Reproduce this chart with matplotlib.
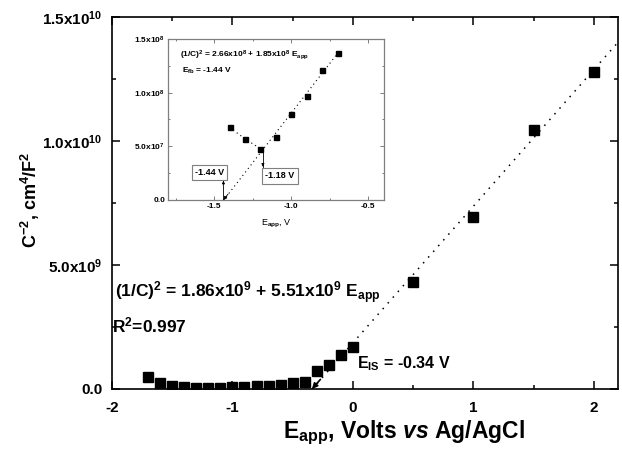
import numpy as np
import matplotlib.pyplot as plt
from matplotlib.ticker import MultipleLocator

plt.rcParams['font.family'] = ['Liberation Sans', 'DejaVu Sans']
plt.rcParams['font.weight'] = 'bold'
plt.rcParams['mathtext.fontset'] = 'custom'
plt.rcParams['mathtext.rm'] = 'Liberation Sans:bold'
plt.rcParams['mathtext.bf'] = 'Liberation Sans:bold'
plt.rcParams['mathtext.it'] = 'Liberation Sans:bold:italic'

# main Mott-Schottky data (V vs Ag/AgCl, C^-2 in cm^4/F^2)
e_main = [-1.7, -1.6, -1.5, -1.4, -1.3, -1.2, -1.1, -1.0, -0.9, -0.8, -0.7,
          -0.6, -0.5, -0.4, -0.3, -0.2, -0.1, 0.0, 0.5, 1.0, 1.5, 2.0]
c_main = [5.0e8, 2.4e8, 1.0e8, 6.8e7, 5.7e7, 4.8e7, 5.9e7, 8.0e7, 9.7e7, 1.2e8, 1.37e8,
          1.6e8, 2.5e8, 2.9e8, 7.3e8, 9.7e8, 1.37e9, 1.7e9, 4.3e9, 6.95e9, 1.045e10, 1.28e10]
fit_a, fit_b = 1.86e9, 5.51e9
e_is = -0.34

# inset (zoom on the low-potential region)
e_ins = [-1.4, -1.3, -1.2, -1.1, -1.0, -0.9, -0.8, -0.7]
c_ins = [6.76e7, 5.7e7, 4.77e7, 5.89e7, 8.0e7, 9.72e7, 1.215e8, 1.37e8]
ins_a, ins_b = 2.66e8, 1.85e8
e_fb = -1.44

main_yticks = [0, 5e9, 1e10, 1.5e10]
main_ylabels = ['0.0', '5.0x10$^{9}$', '1.0x10$^{10}$', '1.5x10$^{10}$']
main_xticks = [-2, -1, 0, 1, 2]
ins_yticks = [0, 5e7, 1e8, 1.5e8]
ins_ylabels = ['0.0', '5.0x10$^{7}$', '1.0x10$^{8}$', '1.5x10$^{8}$']
ins_xticks = [-1.5, -1.0, -0.5]

fig = plt.figure(figsize=(6.22, 4.5), dpi=100)
ax = fig.add_axes([0.18, 0.1356, 0.8136, 0.8267])

ax.plot(e_main, c_main, 's', color='black', ms=6.5, clip_on=True, zorder=3)
xf = np.array([e_is, 2.2])
ax.plot(xf, fit_a + fit_b * xf, color='black', lw=1.1, ls=(0, (1, 4)))
ax.annotate('', xy=(e_is, 0), xytext=(e_is + 0.07, 0.07 * fit_b),
            arrowprops=dict(arrowstyle='-|>', color='black', lw=1.2, mutation_scale=8,
                            shrinkA=0, shrinkB=0))

ax.set_xlim(-2, 2.2)
ax.set_ylim(0, 1.5e10)
ax.set_xticks(main_xticks)
ax.set_xticklabels([str(v) for v in main_xticks])
ax.set_yticks(main_yticks)
ax.set_yticklabels(main_ylabels)
ax.xaxis.set_minor_locator(MultipleLocator(0.5))
ax.yaxis.set_minor_locator(MultipleLocator(2.5e9))
ax.tick_params(which='both', direction='in', top=True, right=True, labelsize=11, width=1.1)
ax.tick_params(axis='x', pad=9)
ax.tick_params(axis='y', pad=7)
ax.tick_params(which='major', length=6)
ax.tick_params(which='minor', length=3)
for s in ax.spines.values():
    s.set_linewidth(1.2)

ax.text(0.006, 0.245, '(1/C)$^{2}$ = 1.86x10$^{9}$ + 5.51x10$^{9}$ E$_{\\mathrm{app}}$',
        transform=ax.transAxes, fontsize=12.5, va='baseline')
ax.text(0.0, 0.151, 'R$^{2}$=0.997', transform=ax.transAxes, fontsize=12.5, va='baseline')
ax.text(0.484, 0.056, 'E$_{\\mathrm{IS}}$ = -0.34 V', transform=ax.transAxes,
        fontsize=11.5, va='baseline')

fig.text(0.049, 0.556, 'C$^{-2}$, cm$^{4}$/F$^{2}$', rotation=90, fontsize=13,
         ha='center', va='center')
fig.text(0.65, 0.038, 'E$_{\\mathrm{app}}$, Volts $\\it{vs}$ Ag/AgCl', fontsize=16.5,
         ha='center', va='center')

# inset
ins = fig.add_axes([0.270, 0.5556, 0.347, 0.3578])
gray = '#7f7f7f'
ins.plot(e_ins, c_ins, 's', color='black', ms=3.6, zorder=3)
ins.plot(e_ins[:3], c_ins[:3], color='black', lw=0.8, ls=(0, (1, 3)))
xi = np.array([e_fb, e_ins[-1]])
ins.plot(xi, ins_a + ins_b * xi, color='black', lw=0.8, ls=(0, (1, 3)))
ins.annotate('', xy=(e_fb, 0), xytext=(e_fb + 0.03, 0.03 * ins_b),
             arrowprops=dict(arrowstyle='-|>', color='black', lw=0.6, mutation_scale=5,
                             shrinkA=0, shrinkB=0))
ins.annotate('-1.44 V', xy=(e_fb, 2.0e7), xytext=(0.192, 0.171), textcoords='axes fraction',
             fontsize=6.5, ha='center', va='center',
             bbox=dict(boxstyle='square,pad=0.35', fc='white', ec=gray, lw=0.8))
ins.plot([e_fb, e_fb], [0, 2.0e7], color='black', lw=0.6)
ins.annotate('', xy=(e_fb, 2.05e7), xytext=(e_fb, 1.4e7),
             arrowprops=dict(arrowstyle='-|>', color='black', lw=0.6, mutation_scale=4))
ins.annotate('-1.18 V', xy=(-1.184, 2.8e7), xytext=(0.519, 0.149), textcoords='axes fraction',
             fontsize=6.5, ha='center', va='center',
             bbox=dict(boxstyle='square,pad=0.35', fc='white', ec=gray, lw=0.8))
ins.plot([-1.184, -1.184], [4.77e7, 3.0e7], color='black', lw=0.6)
ins.annotate('', xy=(-1.184, 2.85e7), xytext=(-1.184, 3.5e7),
             arrowprops=dict(arrowstyle='-|>', color='black', lw=0.6, mutation_scale=4))

ins.text(0.056, 0.9, '(1/C)$^{2}$ = 2.66x10$^{8}$ + 1.85x10$^{8}$ E$_{\\mathrm{app}}$',
         transform=ins.transAxes, fontsize=6, va='center')
ins.text(0.065, 0.8, 'E$_{\\mathrm{fb}}$ = -1.44 V', transform=ins.transAxes,
         fontsize=6, va='center')

ins.set_xlim(-1.8, -0.4)
ins.set_ylim(0, 1.5e8)
ins.set_xticks(ins_xticks)
ins.set_xticklabels(['%.1f' % v for v in ins_xticks])
ins.set_yticks(ins_yticks)
ins.set_yticklabels(ins_ylabels)
ins.xaxis.set_minor_locator(MultipleLocator(0.25))
ins.yaxis.set_minor_locator(MultipleLocator(2.5e7))
ins.tick_params(which='both', direction='in', top=True, right=True, labelsize=6,
                color=gray, width=0.7, pad=2)
ins.tick_params(which='major', length=3)
ins.tick_params(which='minor', length=1.5)
for s in ins.spines.values():
    s.set_color(gray)
    s.set_linewidth(0.9)
ins.set_xlabel('E$_{\\mathrm{app}}$, V', fontsize=6.5, labelpad=6)

fig.savefig('out.png', dpi=100)
